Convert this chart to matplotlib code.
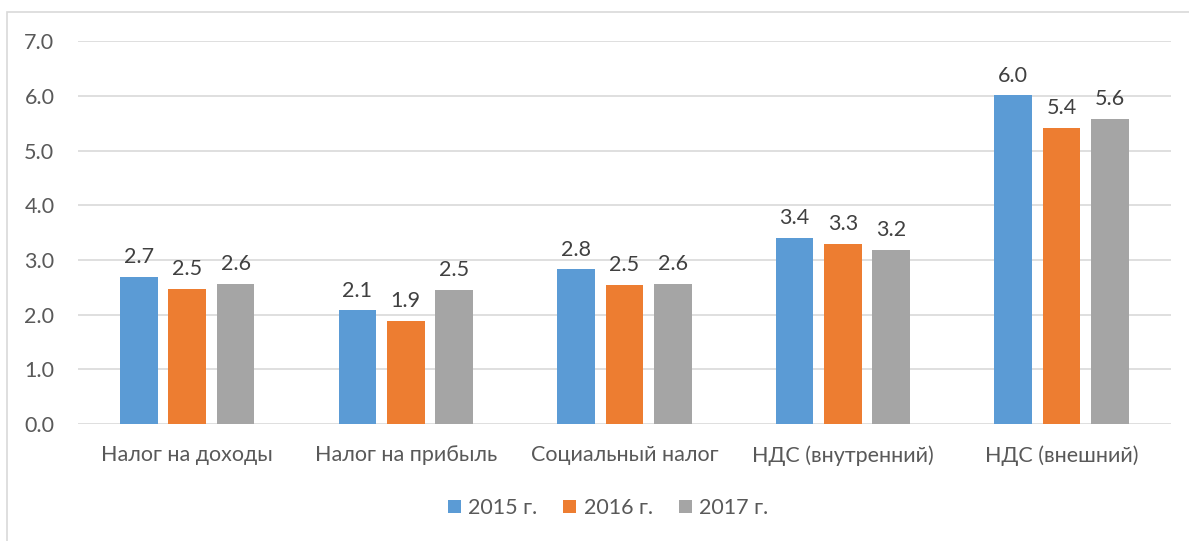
import matplotlib
matplotlib.use("Agg")
import matplotlib.pyplot as plt
import numpy as np
from matplotlib.patches import Rectangle

plt.rcParams['font.family'] = ['Lato', 'DejaVu Sans']

categories = ["Налог на доходы", "Налог на прибыль", "Социальный налог",
              "НДС (внутренний)", "НДС (внешний)"]
series_names = ["2015 г.", "2016 г.", "2017 г."]
v2015 = [2.69, 2.08, 2.83, 3.40, 6.01]
v2016 = [2.47, 1.89, 2.54, 3.29, 5.42]
v2017 = [2.57, 2.45, 2.57, 3.18, 5.58]
colors = ["#5B9BD5", "#ED7D31", "#A5A5A5"]

text_color = "#595959"
grid_color = "#D9D9D9"
fs = 15.5

fig = plt.figure(figsize=(11.89, 5.41), dpi=100)
ax = fig.add_axes([0.0656, 0.216, 0.919, 0.708])

# рамка диаграммы (уходит за край картинки)
fig.patches.append(Rectangle((7 / 1189, -0.05), 1.2, 1 - 12 / 541 + 0.05,
                             transform=fig.transFigure, fill=False,
                             edgecolor=grid_color, linewidth=1.2))

x = np.arange(len(categories))
step = 0.2215
width = 0.172
for i, (vals, name) in enumerate(zip([v2015, v2016, v2017], series_names)):
    pos = x + (i - 1) * step
    bars = ax.bar(pos, vals, width, color=colors[i], label=name, zorder=3)
    for b, v in zip(bars, vals):
        ax.annotate(f"{v:.1f}", (b.get_x() + b.get_width() / 2, v),
                    xytext=(0, 7), textcoords="offset points",
                    ha="center", va="bottom", fontsize=fs, color="#404040")

ax.set_xlim(-0.5, len(categories) - 0.5)
ax.set_ylim(0, 7)
ax.set_yticks(np.arange(0, 7.5, 1.0))
ax.set_yticklabels([f"{t:.1f}" for t in np.arange(0, 7.5, 1.0)])
ax.set_xticks(x)
ax.set_xticklabels(categories)

ax.grid(axis="y", color=grid_color, linewidth=1.2, zorder=0)
for s in ax.spines.values():
    s.set_visible(False)
ax.tick_params(axis="both", length=0, labelsize=fs, colors=text_color)
ax.tick_params(axis="y", pad=17)
ax.tick_params(axis="x", pad=15)

fig.legend(loc="center", bbox_to_anchor=(608 / 1189, 1 - 508 / 541), ncol=3,
           frameon=False, fontsize=fs, handlelength=0.6, handleheight=0.6,
           handletextpad=0.35, columnspacing=1.2, labelcolor=text_color)

fig.savefig("out.png", dpi=100)
